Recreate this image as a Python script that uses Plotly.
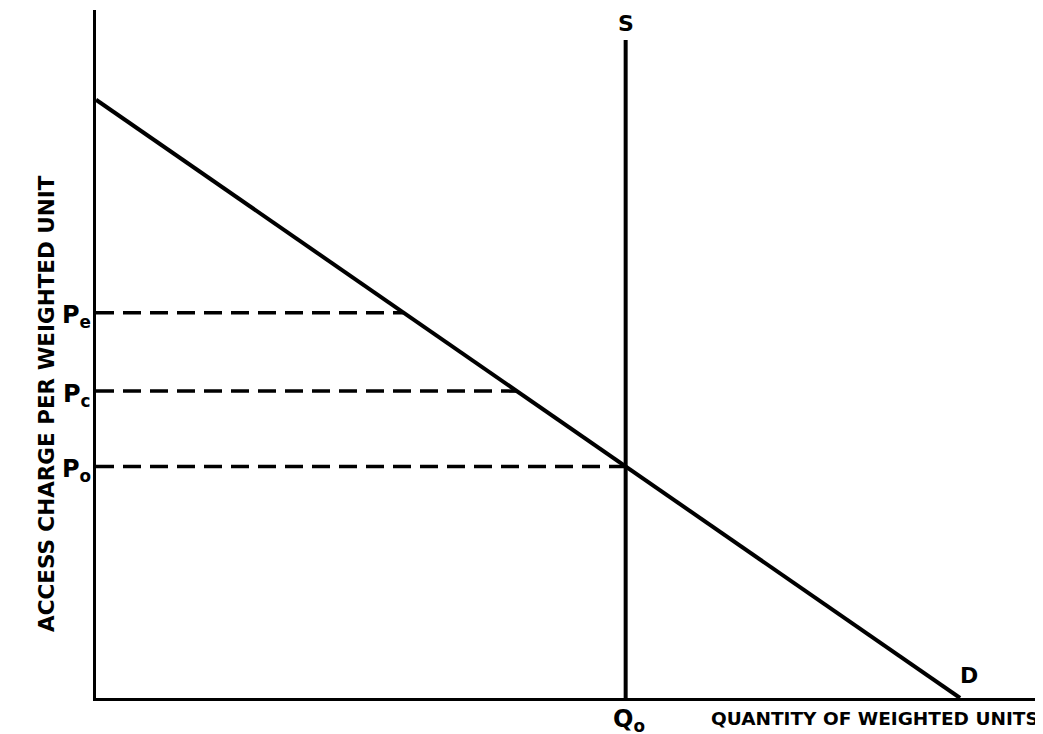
import plotly.graph_objects as go

# demand curve: price falls linearly with quantity
demand_q = [0, 10]
demand_p = [10, 0]

# fixed supply at Q0
supply_q = 6.13
supply_top = 11.0

# price levels marked on the y axis
price_names = ["P<sub>e</sub>", "P<sub>c</sub>", "P<sub>o</sub>"]
price_levels = [6.44, 5.13, 3.87]

x_max = 10.96
y_max = 11.5

FONT = "DejaVu Sans, sans-serif"


def label_font(size):
    return dict(size=size, family=FONT, color="black", weight=700)


fig = go.Figure()

# dashed price lines from the axis to where they meet demand or supply
for p in price_levels:
    q_end = min(demand_q[1] * (1 - p / demand_p[0]), supply_q)
    fig.add_trace(go.Scatter(
        x=[0, q_end], y=[p, p], mode="lines",
        line=dict(color="black", width=3.5, dash="18px,9px"),
        hoverinfo="skip", showlegend=False
    ))

fig.add_trace(go.Scatter(
    x=demand_q, y=demand_p, mode="lines",
    line=dict(color="black", width=4),
    hoverinfo="skip", showlegend=False
))

fig.add_trace(go.Scatter(
    x=[supply_q, supply_q], y=[0, supply_top], mode="lines",
    line=dict(color="black", width=4),
    hoverinfo="skip", showlegend=False
))

# labels
for name, p in zip(price_names, price_levels):
    fig.add_annotation(x=0, y=p, text=name, showarrow=False,
                       xanchor="right", xshift=-3, yshift=-4,
                       font=label_font(24))

fig.add_annotation(x=supply_q, y=supply_top, text="S", showarrow=False,
                   yanchor="bottom", yshift=2, font=label_font(22))
fig.add_annotation(x=demand_q[1], y=0, text="D", showarrow=False,
                   yanchor="bottom", xshift=9, yshift=8, font=label_font(22))
fig.add_annotation(x=supply_q, y=0, text="Q<sub>o</sub>", showarrow=False,
                   yanchor="top", xshift=3, yshift=-5, font=label_font(24))
fig.add_annotation(x=1, xref="paper", y=0, text="QUANTITY OF WEIGHTED UNITS",
                   showarrow=False, xanchor="right", yanchor="top", xshift=-2, yshift=-8,
                   font=label_font(18.5))
fig.add_annotation(x=0, xref="paper", y=0.5, yref="paper",
                   text="ACCESS CHARGE PER WEIGHTED UNIT",
                   showarrow=False, textangle=-90, xanchor="center", xshift=-50, yshift=-50,
                   font=label_font(21.5))

fig.update_layout(
    width=1043, height=734,
    margin=dict(l=88, r=8, t=2, b=44),
    plot_bgcolor="white",
    paper_bgcolor="white",
    xaxis=dict(range=[0, x_max], showgrid=False, zeroline=False, showticklabels=False,
               ticks="", showline=True, linecolor="black", linewidth=3),
    yaxis=dict(range=[0, y_max], showgrid=False, zeroline=False, showticklabels=False,
               ticks="", showline=True, linecolor="black", linewidth=3),
)

fig.write_html("out.html")
